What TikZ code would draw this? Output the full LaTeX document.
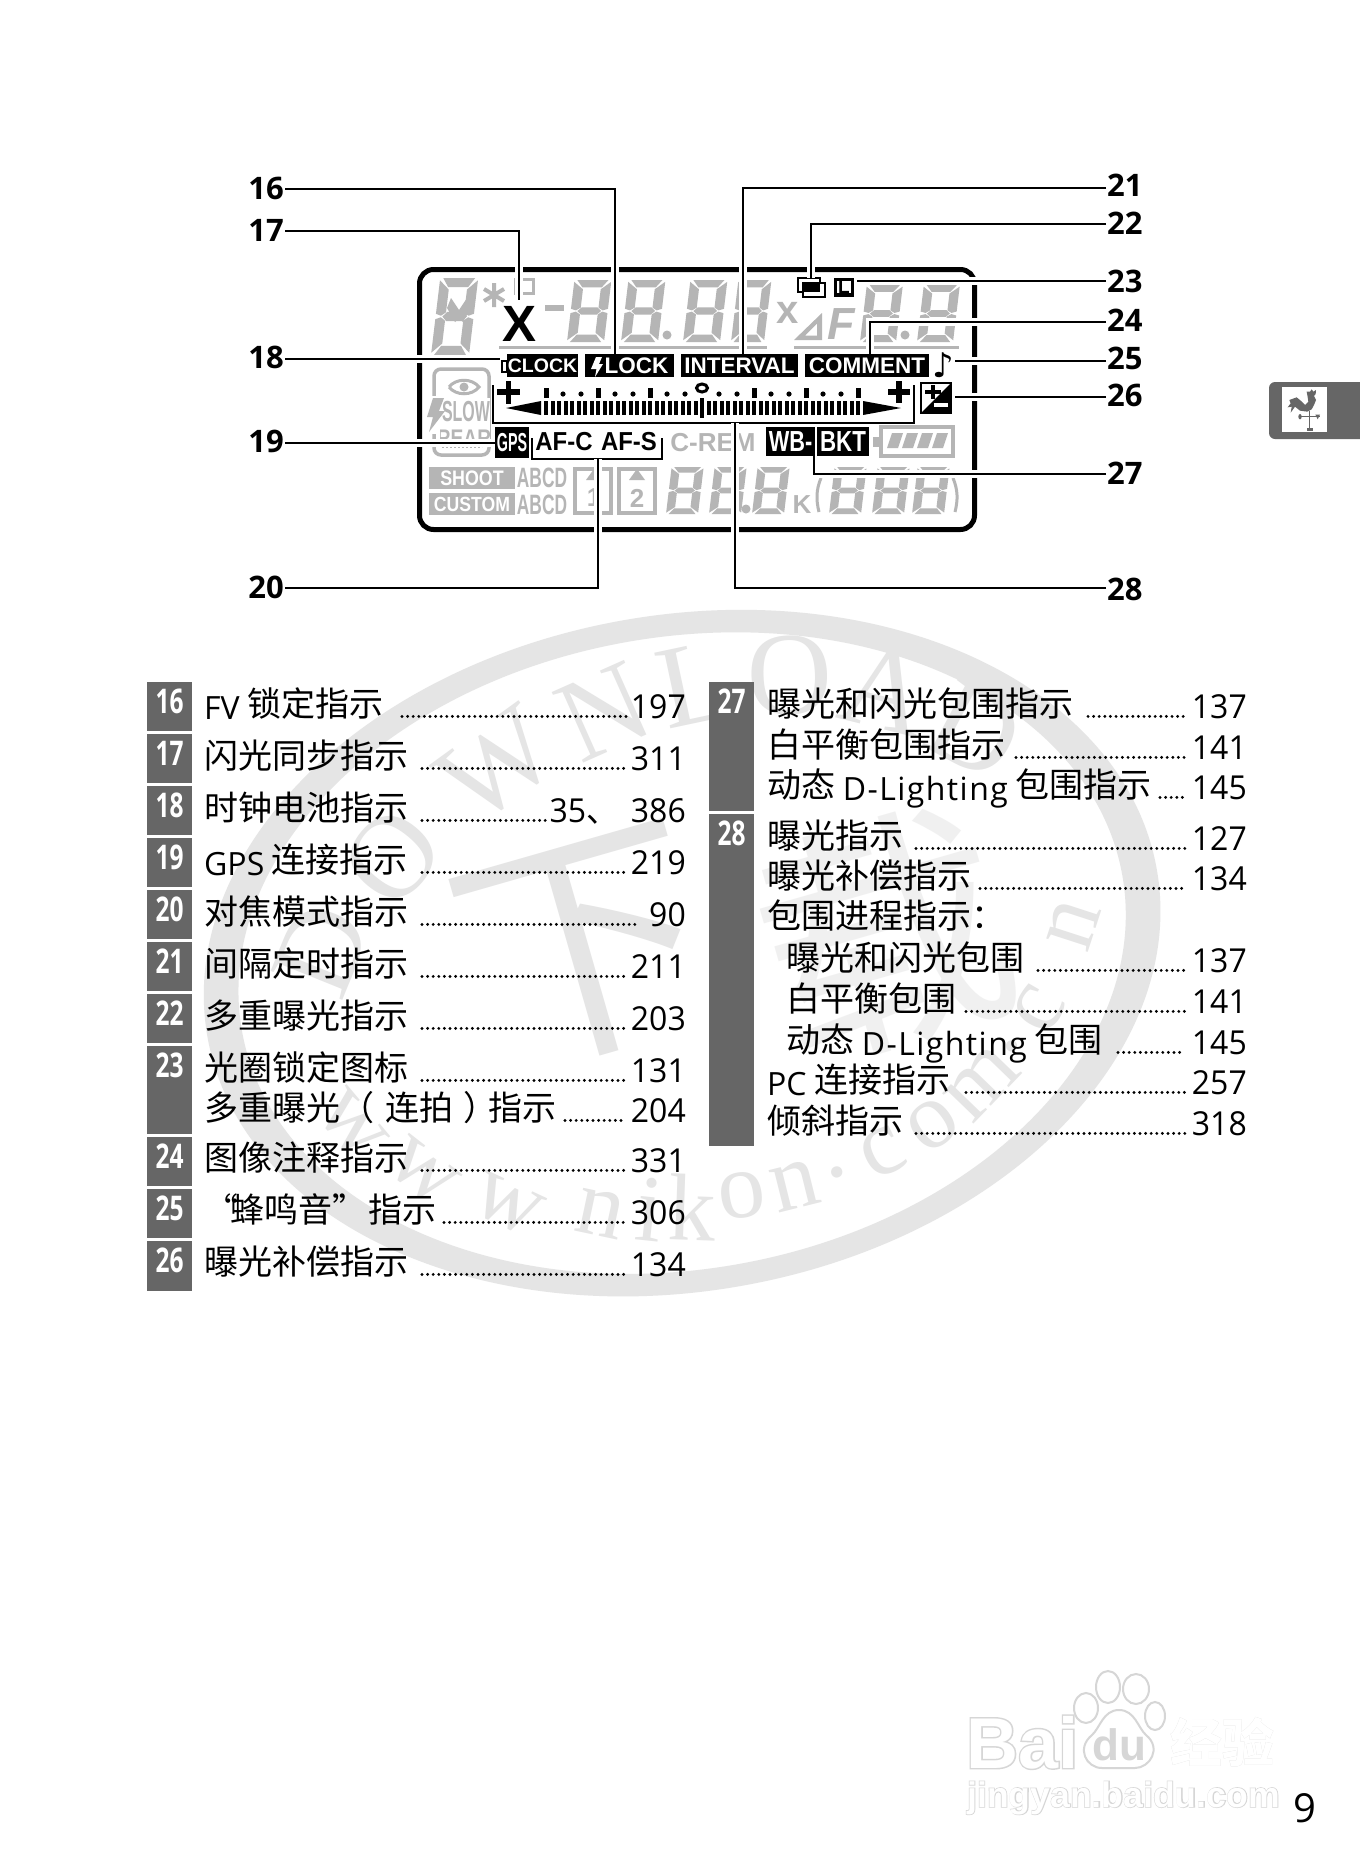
\documentclass[tikz,border=0pt]{standalone}
\usepackage{fontspec}
\setmainfont{Open Sans}
\newfontfamily\cjk{Noto Sans CJK SC}
\newfontfamily\lcdfont{Liberation Sans}
\newfontfamily\wmfont{Liberation Serif}
\newfontfamily\baiduedge{Liberation Sans Bold}[FakeBold=4]
\newfontfamily\baiducjkedge{Noto Sans CJK SC Bold}[FakeBold=5]
\definecolor{boxgray}{HTML}{666666}
\definecolor{lcdgray}{HTML}{B5B5B5}
\definecolor{wmgray}{HTML}{E5E5E5}
\definecolor{logoedge}{HTML}{D6D6D6}
\newcommand{\fsz}[1]{\fontsize{#1}{#1}\selectfont}
\newcommand{\lat}[1]{\raisebox{-2.6pt}{\normalfont\fsz{32}#1}}
\newcommand{\lift}[2]{\raisebox{#1}[\height][\depth]{#2}}

\tikzset{
  rowtext/.style={anchor=base west, inner sep=0pt, font=\fsz{34}\cjk},
  pagenum/.style={anchor=base east, inner sep=0pt, xscale=0.97, font=\fsz{33}},
  dotrule/.style={line width=3.2pt, line cap=round, dash pattern=on 0pt off 5.6pt},
  idxnum/.style={inner sep=0pt, text=white, xscale=0.72, font=\fsz{34}\bfseries},
  calloutnum/.style={inner sep=1pt, font=\fsz{31}\bfseries},
  calloutline/.style={line width=2pt, preaction={draw=white, line width=8pt}},
  tagbox/.style={fill=black, text=white, inner sep=0pt, minimum height=23pt, font=\fsz{22.5}\lcdfont\bfseries},
  lcdtxt/.style={inner sep=0pt, text=lcdgray, font=\lcdfont\bfseries},
  wmark/.style={inner sep=0pt, text=wmgray, font=\wmfont},
}

% 灰色液晶段
\newcommand{\lcddigit}[4]{%
  \begin{scope}[shift={(#1,#2)}, xslant=0.12, xscale=#3/10, yscale=-#4/20]
    \fill[lcdgray] (0.8,20)--(9.2,20)--(7.6,17.6)--(2.4,17.6)--cycle;
    \fill[lcdgray] (10,19.4)--(10,10.7)--(8.6,10.2)--(7.4,11.1)--(7.4,17.0)--cycle;
    \fill[lcdgray] (10,0.6)--(10,9.3)--(8.6,9.8)--(7.4,8.9)--(7.4,3.0)--cycle;
    \fill[lcdgray] (0.8,0)--(9.2,0)--(7.6,2.4)--(2.4,2.4)--cycle;
    \fill[lcdgray] (0,0.6)--(0,9.3)--(1.4,9.8)--(2.6,8.9)--(2.6,3.0)--cycle;
    \fill[lcdgray] (0,19.4)--(0,10.7)--(1.4,10.2)--(2.6,11.1)--(2.6,17.0)--cycle;
    \fill[lcdgray] (1.8,10)--(2.9,8.8)--(7.1,8.8)--(8.2,10)--(7.1,11.2)--(2.9,11.2)--cycle;
  \end{scope}}

% 编号灰块
\newcommand{\idxtag}[5]{%
  \fill[boxgray] (#2,#3) rectangle (#2+#5,#4);
  \node[idxnum] (b#1) at (#2+#5/2,#3+19.5) {#1};}

% 一行索引
\newcommand{\indrow}[6]{%
  \node[rowtext] (t#1) at (\rowx,#2-1.6) {#3};
  \node[pagenum] (p#1) at (\pageR,#2) {#6};
  \draw[dotrule] (#4,#2-1.6) -- (#5,#2-1.6);}

% 水印标志字
\newcommand{\logotext}[6]{%
  \node[inner sep=0pt, anchor=base west, text=logoedge, font=\fsz{#4}#6] (#1e) at (#2,#3) {#5};
  \node[inner sep=0pt, anchor=base west, text=white, font=\fsz{#4}\lcdfont\bfseries] (#1) at (#2,#3) {#5};}

\begin{document}
\begin{tikzpicture}[x=1pt, y=-1pt]
  \useasboundingbox (0,0) rectangle (1360,1872);
  \fill[white] (0,0) rectangle (1360,1872);

  % 水印
  \coordinate (W) at (682,953);
  \fill[wmgray, even odd rule, rotate around={10:(W)}]
    (W) ellipse [x radius=482, y radius=338] (W) ellipse [x radius=447, y radius=316];
  \node[wmark, font=\fsz{118}\wmfont, rotate=68] (wmD) at (322,950) {D};
  \node[wmark, font=\fsz{118}\wmfont, rotate=50] (wmO) at (392,857) {O};
  \node[wmark, font=\fsz{118}\wmfont, rotate=36] (wmW) at (497,765) {W};
  \node[wmark, font=\fsz{118}\wmfont, rotate=24] (wmN) at (604,712) {N};
  \node[wmark, font=\fsz{118}\wmfont, rotate=12] (wmL) at (695,684) {L};
  \node[wmark, font=\fsz{118}\wmfont, rotate=2] (wmOb) at (790,676) {O};
  \node[wmark, font=\fsz{118}\wmfont, rotate=-14] (wmA) at (885,690) {A};
  \node[wmark, font=\fsz{118}\wmfont, rotate=-28] (wmDb) at (975,730) {D};
  \node[wmark, font=\fsz{250}\cjk, rotate=16] (wmxia) at (585,950) {下};
  \node[wmark, font=\fsz{95}\wmfont, rotate=-50] (u1) at (352,1125) {w};
  \node[wmark, font=\fsz{95}\wmfont, rotate=-38] (u2) at (423,1172) {w};
  \node[wmark, font=\fsz{95}\wmfont, rotate=-25] (u3) at (508,1205) {w};
  \node[wmark, font=\fsz{95}\wmfont, rotate=-12] (u4) at (600,1214) {n};
  \node[wmark, font=\fsz{95}\wmfont, rotate=-6] (u5) at (650,1210) {i};
  \node[wmark, font=\fsz{95}\wmfont, rotate=-2] (u6) at (692,1207) {k};
  \node[wmark, font=\fsz{95}\wmfont, rotate=8] (u7) at (742,1195) {o};
  \node[wmark, font=\fsz{95}\wmfont, rotate=14] (u8) at (795,1186) {n};
  \node[wmark, font=\fsz{95}\wmfont, rotate=20] (u9) at (837,1172) {.};
  \node[wmark, font=\fsz{95}\wmfont, rotate=26] (u10) at (883,1153) {c};
  \node[wmark, font=\fsz{95}\wmfont, rotate=36] (u11) at (933,1125) {o};
  \node[wmark, font=\fsz{95}\wmfont, rotate=46] (u12) at (982,1083) {m};
  \node[wmark, font=\fsz{95}\wmfont, rotate=54] (u13) at (1012,1046) {.};
  \node[wmark, font=\fsz{95}\wmfont, rotate=60] (u14) at (1039,1009) {c};
  \node[wmark, font=\fsz{95}\wmfont, rotate=72] (u15) at (1074,925) {n};

  % 左栏
  \idxtag{16}{147}{682}{731}{45}
  \idxtag{17}{147}{734}{783}{45}
  \idxtag{18}{147}{786}{835}{45}
  \idxtag{19}{147}{838}{887}{45}
  \idxtag{20}{147}{890}{939}{45}
  \idxtag{21}{147}{942}{991}{45}
  \idxtag{22}{147}{994}{1043}{45}
  \idxtag{23}{147}{1046}{1134}{45}
  \idxtag{24}{147}{1137}{1186}{45}
  \idxtag{25}{147}{1189}{1238}{45}
  \idxtag{26}{147}{1241}{1291}{45}
  % 右栏
  \idxtag{27}{709}{682}{811}{45}
  \idxtag{28}{709}{814}{1146}{45}
  \node[wmark, text=white, opacity=0.16, font=\fsz{250}\cjk, rotate=16] (wmzai) at (883,935) {载};
  \node[wmark, opacity=0.55, font=\fsz{250}\cjk, rotate=16] (wmzaib) at (883,935) {载};

  \def\rowx{204}
  \def\pageR{686}
  \indrow{a16}{718}{\lat{FV} 锁定指示}{402}{626}{197}
  \indrow{a17}{770}{闪光同步指示}{422}{626}{311}
  \indrow{a18}{822}{时钟电池指示}{422}{549}{35{\cjk 、}\hspace{13pt}386}
  \indrow{a19}{874}{\lat{GPS} 连接指示}{422}{626}{219}
  \indrow{a20}{926}{对焦模式指示}{422}{640}{90}
  \indrow{a21}{978}{间隔定时指示}{422}{626}{211}
  \indrow{a22}{1030}{多重曝光指示}{422}{626}{203}
  \indrow{a23}{1082}{光圈锁定图标}{422}{626}{131}
  \indrow{a23b}{1122}{多重曝光（\hspace{11pt}连拍\hspace{10pt}）\hspace{-9pt}指示}{565}{626}{204}
  \indrow{a24}{1172}{图像注释指示}{422}{626}{331}
  \indrow{a25}{1224}{“\hspace{-8pt}蜂鸣音”\hspace{2pt}指示}{444}{626}{306}
  \indrow{a26}{1276}{曝光补偿指示}{422}{626}{134}

  \def\rowx{767}
  \def\pageR{1247}
  \indrow{b27}{718}{曝光和闪光包围指示}{1088}{1185}{137}
  \indrow{b27b}{759}{白平衡包围指示}{1016}{1185}{141}
  \indrow{b27c}{799}{动态 \lat{\addfontfeature{LetterSpace=4.5}D-Lighting} 包围指示}{1160}{1185}{145}
  \indrow{b28}{850}{曝光指示}{916}{1185}{127}
  \indrow{b28b}{890}{曝光补偿指示}{980}{1185}{134}
  \node[rowtext] (tb28c) at (767,928.4) {包围进程指示：};
  \def\rowx{786}
  \indrow{b28d}{972}{曝光和闪光包围}{1038}{1185}{137}
  \indrow{b28e}{1013}{白平衡包围}{966}{1185}{141}
  \indrow{b28f}{1054}{动态 \lat{\addfontfeature{LetterSpace=4.5}D-Lighting} 包围}{1118}{1185}{145}
  \def\rowx{767}
  \indrow{b28g}{1094}{\lat{PC} 连接指示}{966}{1185}{257}
  \indrow{b28h}{1135}{倾斜指示}{916}{1185}{318}

  % 液晶屏外框
  \draw[line width=5pt, rounded corners=14pt] (419.5,269.5) rectangle (974.5,529.5);

  % 灰色数码
  \lcddigit{431}{355}{38}{77}
  \fill[lcdgray] (447,308)--(451,298)--(459,310)--(467,298)--(471,308)--(463,322)--(459,318)--(455,322)--cycle;
  \draw[lcdgray, line width=4pt] (494,283)--(494,307) (484,289)--(504,301) (484,301)--(504,289);
  \draw[lcdgray, line width=3pt] (515,279) rectangle (533,293);
  \fill[lcdgray] (545,305) rectangle (564,311);
  \lcddigit{567}{342}{37}{62}
  \lcddigit{621}{342}{37}{62}
  \fill[lcdgray] (667,335) circle (4.5);
  \lcddigit{683}{342}{37}{62}
  \lcddigit{731}{342}{33}{62}
  \node[lcdtxt, font=\fsz{40}\lcdfont\bfseries] (lcdx) at (788,313) {x};
  \fill[lcdgray, even odd rule] (794,340)--(822,313)--(822,340)--cycle (805,335.5)--(817,323.5)--(817,335.5)--cycle;
  \node[lcdtxt, font=\fsz{45}\lcdfont\bfseries\itshape] (lcdF) at (841,324) {F};
  \lcddigit{860}{342}{36}{57}
  \fill[lcdgray] (905,335) circle (4.5);
  \lcddigit{917}{342}{36}{57}
  \fill[lcdgray] (499,345.5) rectangle (767,348.5);
  \fill[lcdgray] (794,345.5) rectangle (959,348.5);

  % 黑色标签
  \node[lcdtxt, text=black, font=\fsz{51}\lcdfont\bfseries] (flashx) at (519.5,323.5) {X};
  \node[tagbox, minimum width=71pt, font=\fsz{19.5}\lcdfont\bfseries] (clock) at (542.5,365.5) {CLOCK};
  \draw[line width=2pt, fill=white] (502,360.5) rectangle (507,371.5);
  \node[tagbox, minimum width=89pt] (locktag) at (629.5,365.5) {\hspace{14pt}LOCK};
  \fill[white] (596,357)--(602,357)--(599,364)--(603,364)--(595,377)--(596.5,369)--(591,369)--cycle;
  \node[tagbox, minimum width=117pt] (interval) at (739.5,365.5) {INTERVAL};
  \node[tagbox, minimum width=124pt] (comment) at (867,365.5) {COMMENT};
  \node[inner sep=0pt, font=\fsz{34}\fontspec{DejaVu Sans}] (beep) at (943,365) {♪};

  % 曝光标尺
  \draw[line width=5.5pt] (497,392)--(520,392) (508.5,381)--(508.5,404);
  \draw[line width=5.5pt] (888,392)--(910,392) (899,381)--(899,403);
  \foreach \t in {546,598,650,754,806,858} {
    \fill (\t-2.5,388) rectangle (\t+2.5,398);
  }
  \foreach \t in {563,581,615,633,667,685,719,737,771,789,823,841} {
    \fill (\t,394) circle (2.6);
  }
  \draw[line width=3pt] (702,388) ellipse [x radius=5.5, y radius=4];
  \foreach \i in {-24,...,24} {
    \fill ({702+6.5*\i-2},401) rectangle ({702+6.5*\i+2},415);
  }
  \fill (700,398) rectangle (704,418);
  \fill (506,408)--(541,401)--(541,415)--cycle;
  \fill (901,408)--(863,401)--(863,415)--cycle;

  % 曝光补偿
  \draw[line width=2.5pt] (921,383) rectangle (951,413);
  \fill (921,413)--(951,383)--(951,413)--cycle;
  \draw[line width=3.5pt] (925,392)--(941,392) (933,385)--(933,399);
  \draw[white, line width=3.5pt] (934,405)--(948,405);

  % 多重曝光、光圈锁定
  \draw[line width=2.5pt] (798,278) rectangle (820,292);
  \draw[line width=2.5pt, fill=white] (803,283) rectangle (825,297);
  \fill (803,283) rectangle (820,292);
  \draw[line width=3.5pt] (835.5,279.5) rectangle (852.5,295);
  \node[inner sep=0pt, font=\fsz{19}\lcdfont\bfseries] (lockL) at (844,287) {L};

  % 闪光模式框
  \draw[lcdgray, line width=3.5pt, rounded corners=7pt] (434,369) rectangle (489,455);
  \fill[white] (426,396) rectangle (446,434);
  \fill[white] (443,398) rectangle (490,446);
  \draw[lcdgray, line width=3pt, fill=white] (449,387)..controls (456,378) and (472,378) ..(479,387)..controls (472,396) and (456,396) ..(449,387);
  \fill[lcdgray] (464,387) circle (4.5);
  \fill[lcdgray] (433,398)--(444,398)--(439,411)--(445,411)--(429,432)--(433,417)--(427,417)--cycle;
  \node[lcdtxt, xscale=0.55, font=\fsz{29}\lcdfont\bfseries] (slow) at (466,412) {SLOW};
  \begin{scope}
    \clip (440,424) rectangle (490,438);
    \node[lcdtxt, xscale=0.8, font=\fsz{24}\lcdfont\bfseries] (rear) at (464,438) {REAR};
  \end{scope}
  \draw[lcdgray, line width=2pt, dash pattern=on 2pt off 2pt] (442,447)--(482,447);

  % 第三行
  \fill (495,427) rectangle (529,458);
  \node[inner sep=0pt, text=white, xscale=0.55, font=\fsz{26}\lcdfont\bfseries] (gps) at (512,442.5) {GPS};
  \node[inner sep=0pt, xscale=0.92, font=\fsz{26}\lcdfont\bfseries] (afc) at (564,441.5) {AF-C};
  \node[inner sep=0pt, xscale=0.92, font=\fsz{26}\lcdfont\bfseries] (afs) at (629,441.5) {AF-S};
  \node[lcdtxt, font=\fsz{26}\lcdfont\bfseries] (crem) at (713,443) {C-REM};
  \node[fill=black, text=white, inner sep=0pt, minimum width=49pt, minimum height=29pt] (wbtag) at (790.5,441.5) {};
  \node[inner sep=0pt, text=white, xscale=0.75, font=\fsz{29}\lcdfont\bfseries] (wb) at (790.5,441.5) {WB-};
  \node[fill=black, text=white, inner sep=0pt, minimum width=52pt, minimum height=29pt] (bkttag) at (843,441.5) {};
  \node[inner sep=0pt, text=white, xscale=0.77, font=\fsz{29}\lcdfont\bfseries] (bkt) at (843,441.5) {BKT};

  % 电池
  \draw[lcdgray, line width=3.5pt] (881,427) rectangle (953,456);
  \fill[lcdgray] (873,437) rectangle (880,447);
  \foreach \i in {0,...,3} {
    \fill[lcdgray] ({887+15*\i},448)--({892+15*\i},433)--({903+15*\i},433)--({898+15*\i},448)--cycle;
  }

  % 底行
  \fill[lcdgray] (429,467) rectangle (515,489);
  \fill[lcdgray] (429,493) rectangle (515,515);
  \node[inner sep=0pt, text=white, xscale=0.85, font=\fsz{21}\lcdfont\bfseries] (shoot) at (472,478) {SHOOT};
  \node[inner sep=0pt, text=white, xscale=0.86, font=\fsz{20.5}\lcdfont\bfseries] (custom) at (472,504) {CUSTOM};
  \node[lcdtxt, xscale=0.62, font=\fsz{28}\lcdfont\bfseries] (abcdA) at (542,478) {ABCD};
  \node[lcdtxt, xscale=0.62, font=\fsz{28}\lcdfont\bfseries] (abcdB) at (542,505) {ABCD};
  \draw[lcdgray, line width=4pt] (575,469) rectangle (611,513);
  \fill[lcdgray] (594,469)--(586,480)--(602,480)--cycle;
  \node[lcdtxt, font=\fsz{26}\lcdfont\bfseries] (card1) at (594,498) {1};
  \draw[lcdgray, line width=4pt] (619,469) rectangle (655,513);
  \fill[lcdgray] (637,469)--(629,480)--(645,480)--cycle;
  \node[lcdtxt, font=\fsz{26}\lcdfont\bfseries] (card2) at (637,498) {2};
  \lcddigit{666}{514}{32}{47}
  \lcddigit{709}{514}{32}{47}
  \fill[lcdgray] (746,509) circle (4.5);
  \lcddigit{752}{514}{32}{47}
  \node[lcdtxt, font=\fsz{26}\lcdfont\bfseries] (kk) at (802,505) {K};
  \draw[lcdgray, line width=3pt] (821,478)..controls (816,490) and (816,500) ..(819,512);
  \lcddigit{829}{514}{32}{47}
  \lcddigit{872}{514}{32}{47}
  \lcddigit{912}{514}{32}{47}
  \draw[lcdgray, line width=3pt] (953,478)..controls (958,490) and (958,500) ..(955,512);

  % 引线
  \node[calloutnum, anchor=east] (n16) at (285,188.5) {16};
  \node[calloutnum, anchor=east] (n17) at (285,230.5) {17};
  \node[calloutnum, anchor=east] (n18) at (285,359) {\lift{1.2pt}{18}};
  \node[calloutnum, anchor=east] (n19) at (285,443) {\lift{1.2pt}{19}};
  \node[calloutnum, anchor=east] (n20) at (285,587.5) {20};
  \node[calloutnum, anchor=west] (n21) at (1106,187.5) {\lift{2.4pt}{21}};
  \node[calloutnum, anchor=west] (n22) at (1106,223.5) {22};
  \node[calloutnum, anchor=west] (n23) at (1106,281) {23};
  \node[calloutnum, anchor=west] (n24) at (1106,321.5) {\lift{1.2pt}{24}};
  \node[calloutnum, anchor=west] (n25) at (1106,361) {\lift{2.4pt}{25}};
  \node[calloutnum, anchor=west] (n26) at (1106,396.5) {\lift{1.2pt}{26}};
  \node[calloutnum, anchor=west] (n27) at (1106,473.5) {27};
  \node[calloutnum, anchor=west] (n28) at (1106,587.5) {\lift{-2.4pt}{28}};

  \coordinate (e16) at (615,354);
  \coordinate (e17) at (519,300);
  \coordinate (e18) at (500,359);
  \coordinate (e19) at (495,443);
  \coordinate (e21) at (743,354);
  \coordinate (e22) at (811,278);
  \coordinate (e23) at (857,281);
  \coordinate (e24) at (870,354);
  \coordinate (e25) at (955,361);
  \coordinate (e26) at (955,396.5);
  \coordinate (e27) at (814,456);

  \draw[calloutline] (n16.east) -| (e16);
  \draw[calloutline] (n17.east) -| (e17);
  \draw[calloutline] (n18.east) -- (e18);
  \draw[calloutline] (n19.east) -- (e19);
  \draw[calloutline] (n21.west) -| (e21);
  \draw[calloutline] (n22.west) -| (e22);
  \draw[calloutline] (n23.west) -- (e23);
  \draw[calloutline] (n24.west) -| (e24);
  \draw[calloutline] (n25.west) -- (e25);
  \draw[calloutline] (n26.west) -- (e26);
  \draw[calloutline] (n27.west) -| (e27);

  % 括线 20、28
  \coordinate (e20) at (598,458.5);
  \coordinate (e28) at (735,423);
  \draw[line width=2pt] (532,438)--(532,458.5)--(662,458.5)--(662,438);
  \draw[calloutline] (n20.east) -| (e20);
  \draw[line width=2pt] (493,385)--(493,423)--(913.5,423)--(913.5,385);
  \draw[calloutline] (n28.west) -| (e28);

  % 页边标签
  \fill[boxgray, rounded corners=6pt] (1269,382) rectangle (1380,439);
  \fill[white] (1282,387) rectangle (1327,432);
  \begin{scope}[shift={(1250,370)}, scale=1/3]
    \fill[boxgray] (118,90)--(140,82)--(152,92)--(165,105)--(175,95)--(172,75)--(170,65)--(180,65)--(185,58)--(190,65)--(198,60)--(197,72)--(192,78)--(198,90)--(192,105)--(185,118)--(172,125)--(150,122)--(135,110)--(122,128)--(125,110)--(113,112)--(122,100)--cycle;
    \fill[boxgray] (176,122) rectangle (180,176);
    \fill[boxgray] (148,138) rectangle (210,142);
    \fill[boxgray] (170,175) rectangle (188,183);
    \fill[boxgray] (150,140) ellipse [x radius=5, y radius=8];
    \fill[boxgray] (196,134)--(210,134)--(203,148)--cycle;
  \end{scope}

  % 页码
  \node[inner sep=0pt, anchor=base, font=\fsz{40}] (pageno) at (1305,1822) {9};

  % 百度标志
  \logotext{logoBai}{966}{1768}{72}{Bai}{\baiduedge}
  \draw[logoedge, line width=2pt, fill=white] (1086,1708) ellipse [x radius=12, y radius=15];
  \draw[logoedge, line width=2pt, fill=white] (1108,1687) ellipse [x radius=12, y radius=16];
  \draw[logoedge, line width=2pt, fill=white] (1136,1689) ellipse [x radius=13, y radius=15];
  \draw[logoedge, line width=2pt, fill=white] (1155,1716) ellipse [x radius=10, y radius=14];
  \draw[logoedge, line width=2pt, fill=white] (1119,1710)..controls (1135,1710) and (1138,1728) ..(1146,1735)..controls (1162,1748) and (1150,1768) ..(1135,1768)--(1102,1768)..controls (1086,1768) and (1076,1748) ..(1092,1735)..controls (1100,1728) and (1103,1710) ..(1119,1710)--cycle;
  \node[inner sep=0pt, anchor=base, text=logoedge, font=\fsz{44}\lcdfont\bfseries] (logodu) at (1119,1760) {du};
  \logotext{logoJY}{1170}{1762}{52}{\cjk\bfseries 经验}{\baiducjkedge}
  \logotext{logoUrl}{967}{1807}{35.6}{jingyan.baidu.com}{\baiduedge}
\end{tikzpicture}
\end{document}
